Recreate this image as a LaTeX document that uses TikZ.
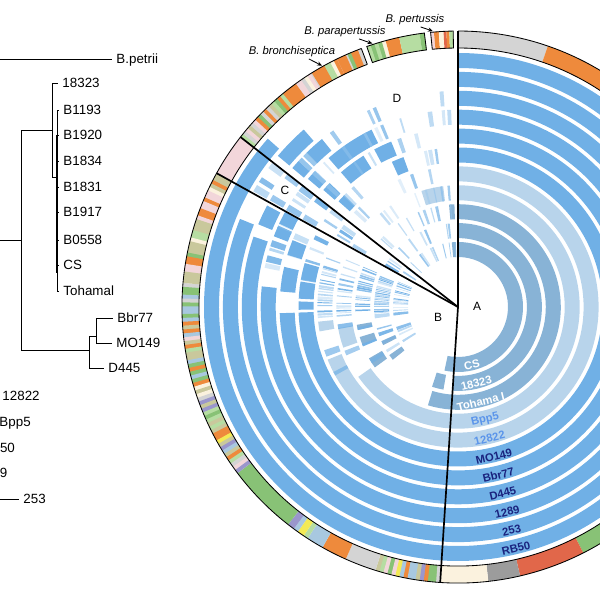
\documentclass[tikz,border=0pt]{standalone}
\usepackage{fontspec}
\setmainfont{Liberation Sans}
\usetikzlibrary{positioning, arrows.meta}

% ring colours
\definecolor{bright}{HTML}{70B0E6}
\definecolor{light}{HTML}{B8D4EB}
\definecolor{steel}{HTML}{88B3D6}
\definecolor{navy}{HTML}{1A237E}
\definecolor{midblue}{HTML}{5B95EA}
% outer ring colours
\definecolor{cgray}{HTML}{D4D4D4}
\definecolor{corange}{HTML}{EE8A3C}
\definecolor{clgreen}{HTML}{B6DDA2}
\definecolor{cgreen}{HTML}{88C276}
\definecolor{cpink}{HTML}{F2D6DA}
\definecolor{ccream}{HTML}{FBF2DE}
\definecolor{cdgray}{HTML}{9C9C9C}
\definecolor{cred}{HTML}{E1674A}
\definecolor{clblue}{HTML}{A8C8E0}
\definecolor{cyellow}{HTML}{F3EA55}
\definecolor{cpurple}{HTML}{9A96CC}
\definecolor{ckhaki}{HTML}{C9C89C}

\pgfmathdeclarerandomlist{khpal}{{ckhaki}{ckhaki}{ckhaki}{ckhaki}{clgreen}{clgreen}{cpink}{cpink}{cgreen}{ccream}{corange}}
\pgfmathdeclarerandomlist{mixpal}{{cgreen}{cgreen}{cgreen}{ckhaki}{ckhaki}{cgray}{cgray}{corange}{corange}{ccream}{cpink}{clblue}{cpurple}{clgreen}{cyellow}}
\pgfmathdeclarerandomlist{dpal}{{corange}{corange}{corange}{cgray}{cgray}{clgreen}{cpink}{cpink}{ckhaki}{ccream}{cgreen}}

% piece of blue ring #1 (1 = innermost) from angle #2 to #3
\newcommand{\rseg}[4]{%
  \pgfmathsetmacro{\segin}{50+(#1-1)*18.9}%
  \pgfmathsetmacro{\segout}{\segin+15}%
  \fill[#4] (#2:\segin) arc[start angle=#2, end angle=#3, radius=\segin]
    -- (#3:\segout) arc[start angle=#3, end angle=#2, radius=\segout] -- cycle;}
% piece of the outer ring
\newcommand{\oseg}[3]{%
  \fill[fill=#3] (#1:259) arc[start angle=#1, end angle=#2, radius=259]
    -- (#2:276) arc[start angle=#2, end angle=#1, radius=276] -- cycle;}
% #3 stripes of random colours (list #4) between #1 and #2
\newcommand{\ostripes}[4]{%
  \pgfmathsetmacro{\stw}{(#2-#1)/#3}%
  \foreach \kk in {1,...,#3}{%
    \pgfmathsetmacro{\stA}{#1+(\kk-1)*\stw}%
    \pgfmathsetmacro{\stB}{min(\stA+\stw+0.2,#2)}%
    \pgfmathrandomitem{\stc}{#4}%
    \oseg{\stA}{\stB}{\stc}}}
% random pieces on ring #1, #4 slots, chance #5
\newcommand{\frags}[6]{%
  \pgfmathsetmacro{\fw}{(#3-#2)/#4}%
  \foreach \kk in {1,...,#4}{%
    \pgfmathsetmacro{\fu}{rnd}%
    \ifdim\fu pt<#5pt
      \pgfmathsetmacro{\fa}{#2+(\kk-1)*\fw}%
      \pgfmathsetmacro{\fb}{\fa+\fw*(0.3+0.6*rnd)}%
      \pgfmathsetmacro{\fo}{0.25+0.75*rnd}%
      \rseg{#1}{\fa}{\fb}{fill=#6, fill opacity=\fo}%
    \fi}}

\begin{document}
\begin{tikzpicture}[x=0.25mm, y=0.25mm,
   leaf/.style = {anchor=west, inner xsep=3pt, inner ysep=0pt, text height=6.9pt,
                  text depth=0pt, font=\fontsize{9.5}{11}\selectfont},
 branch/.style = {line width=0.7pt},
 sector/.style = {line width=1.2pt},
    rim/.style = {line width=0.6pt},
   rlab/.style = {font=\fontsize{8}{10}\selectfont\bfseries, inner sep=0pt},
   sect/.style = {font=\fontsize{8.5}{10}\selectfont},
   spec/.style = {font=\fontsize{8}{10}\selectfont\itshape, inner sep=1pt},
  arrow/.style = {line width=0.6pt, -{Stealth[length=3.5pt, width=3pt]}}
                    ]
\useasboundingbox (0,0) rectangle (600,600);
\clip (0,0) rectangle (600,600);
\pgfmathsetseed{17}

%% tree
\node[leaf] (lfpetrii) at (112,541) {B.petrii};
\node[leaf] (lf18323)  at (58,517) {18323};
\node[leaf] (lfB1193)  at (59,490) {B1193};
\node[leaf] (lfB1920)  at (59,465) {B1920};
\node[leaf] (lfB1834)  at (59,439) {B1834};
\node[leaf] (lfB1831)  at (59,413) {B1831};
\node[leaf] (lfB1917)  at (59,388) {B1917};
\node[leaf] (lfB0558)  at (59,360) {B0558};
\node[leaf] (lfCS)     at (59,335) {CS};
\node[leaf] (lfTohama) at (59,309) {Tohamal};
\node[leaf] (lfBbr77)  at (113,282) {Bbr77};
\node[leaf] (lfMO149)  at (112,257) {MO149};
\node[leaf] (lfD445)   at (104,232) {D445};
\node[leaf] (lf12822)  at (-2,204) {12822};
\node[leaf] (lfBpp5)   at (-5,178) {Bpp5};
\node[leaf] (lfRB50)   at (-23,152) {RB50};
\node[leaf] (lf1289)   at (-27,127) {1289};
\node[leaf] (lf253)    at (19,101) {253};

\coordinate (stem)  at (-5,360);
\coordinate (root)  at (21,360);
\coordinate (bp)    at (52,470);% pertussis clade
\coordinate (bq)    at (57,423);
\coordinate (bb)    at (89,250);% bronchiseptica clade
\coordinate (bc)    at (96,264);
\coordinate (spet)  at (-5,541);
\coordinate (s253)  at (-5,101);

\draw[branch] (spet) -- (lfpetrii.west);
\draw[branch] (stem) -- (root);
\draw[branch] (root) |- (bp);
\draw[branch] (root) |- (bb);
\draw[branch] (bp) |- (lf18323.west);
\draw[branch] (bp) |- (bq);
\draw[branch] (bq) |- (lfB1193.west);
\draw[branch] (bq) |- (lfTohama.west);
\foreach \lf in {B1920,B1834,B1831,B1917,B0558,CS}
  {\draw[branch] (bq |- lf\lf.west) -- (lf\lf.west);}
\draw[line width=1.2pt] (bq |- lfB1920.west) -- ([yshift=-6pt]bq |- lfCS.west);
\draw[branch] (bb) |- (bc);
\draw[branch] (bb) |- (lfD445.west);
\draw[branch] (bc) |- (lfBbr77.west);
\draw[branch] (bc) |- (lfMO149.west);
\draw[branch] (s253) -- (lf253.west);

%% circle
\begin{scope}[shift={(458,293)}]
\coordinate (o) at (0,0);
% full rings in A
\foreach \rg/\rc in {1/steel,2/steel,3/steel,4/light,5/light,6/bright,7/bright,8/bright,9/bright,10/bright,11/bright}
  {\rseg{\rg}{-93.7}{90}{fill=\rc}}
% B and C
\foreach \rg/\fa/\fb in {11/142/266.3, 10/158/266.3, 9/161/266.3, 9/152/157.5, 8/174/266.3, 8/151/155,
    8/156/159, 7/182/266.3, 7/167/175, 7/158/163, 6/182/266.3, 6/164/170, 6/170.8/177, 6/178/181}
  {\rseg{\rg}{\fa}{\fb}{fill=bright}}
\foreach \rg/\fa/\fb in {5/202/266.3, 4/215/266.3, 4/190/199.5, 5/186/190}
  {\rseg{\rg}{\fa}{\fb}{fill=light}}
\foreach \rg/\fa/\fb in {3/253/266.3, 3/190/193, 3/197/202, 3/210/216, 2/252/260, 2/215/219, 2/204/207, 1/258/266.3}
  {\rseg{\rg}{\fa}{\fb}{fill=steel}}
\foreach \rg in {6,7,8}
  {\frags{\rg}{151}{174}{10}{0.5}{bright}}
\foreach \rg in {1,...,5}
  {\frags{\rg}{157}{185}{24}{0.75}{bright}}
\foreach \rg in {1,...,5}
  {\frags{\rg}{185}{214}{9}{0.4}{bright}}
\foreach \rg in {1,...,10}
  {\frags{\rg}{142}{151}{4}{0.5}{bright}}
% D
\foreach \rg/\fa/\fb in {11/138.5/142, 10/131/140, 9/129/134.5, 9/137.5/140, 8/116/131, 8/136.5/139.5,
    7/112/118, 7/122/131, 7/136/139, 6/110/114.5, 6/135.5/138.5}
  {\rseg{\rg}{\fa}{\fb}{fill=bright}}
\rseg{4}{97}{107.5}{fill=light}
\rseg{3}{92}{95}{fill=steel}
\rseg{1}{92}{95.5}{fill=steel}
\foreach \rg in {1,...,9}
  {\frags{\rg}{92}{140}{26}{0.25}{bright!75!white}}

% outer ring
\oseg{71}{90}{cgray}
\oseg{30}{71}{corange}
\oseg{-30}{30}{cgray}
\oseg{-63}{-30}{cgreen}
\oseg{-77}{-63}{cred}
\oseg{-83.7}{-77}{cdgray}
\oseg{-93.7}{-83.7}{ccream}
\ostripes{252.6}{266.3}{16}{mixpal}
\oseg{246}{252.6}{cgray}
\oseg{240.6}{246}{corange}
\oseg{237}{240.6}{clblue}
\oseg{236}{237}{clgreen}
\oseg{234.5}{236}{cyellow}
\oseg{233.5}{234.5}{clblue}
\oseg{232}{233.5}{cpurple}
\oseg{217}{232}{cgreen}
\ostripes{175}{217}{52}{mixpal}
\ostripes{151}{175}{30}{khpal}
\oseg{142}{151}{cpink}
\ostripes{110.5}{142}{40}{dpal}
\foreach \fa/\fb in {114/116, 119/122, 126/128}
  {\oseg{\fa}{\fb}{corange}}
\ostripes{105.2}{109.3}{5}{khpal}
\oseg{102.3}{105.2}{corange}
\oseg{98}{102.3}{clgreen}
\oseg{97}{98}{cgreen}
\foreach \fa/\fb/\fc in {95/95.7/cpink, 94/95/corange, 93/94/ccream, 92.4/93/cred, 91.8/92.4/corange, 91/91.8/clgreen}
  {\oseg{\fa}{\fb}{\fc}}

% outlines of the outer ring
\draw[rim] (110.5:259) arc[start angle=110.5, end angle=450, radius=259];
\draw[rim] (110.5:276) arc[start angle=110.5, end angle=450, radius=276];
\draw[rim] (110.5:259) -- (110.5:276);
\draw[rim] (97:259) arc[start angle=97, end angle=109.3, radius=259]
   -- (109.3:276) arc[start angle=109.3, end angle=97, radius=276] -- cycle;
\draw[rim] (91:259) arc[start angle=91, end angle=95.7, radius=259]
   -- (95.7:276) arc[start angle=95.7, end angle=91, radius=276] -- cycle;

% sector borders
\coordinate (eAD) at (90:276);
\coordinate (eAB) at (-93.7:276);
\coordinate (eCD) at (142:276);
\coordinate (eBC) at (151:276);
\foreach \e in {eAD,eAB,eCD,eBC}
  {\draw[sector] (o) -- (\e);}

% strain names on the rings
\foreach \rg/\txt/\tc in {1/CS/white, 2/18323/white, 3/Tohama I/white, 4/Bpp5/midblue,
    5/12822/midblue, 6/MO149/navy, 7/Bbr77/navy, 8/D445/navy, 9/1289/navy, 10/253/navy, 11/RB50/navy}
  {\node[rlab, text=\tc, rotate=13.5] (rg\rg) at (-76.5:{59.5+(\rg-1)*18.9}) {\txt};}

\coordinate (pPert)  at (95.2:277);
\coordinate (pPara)  at (108:277);
\coordinate (pBronc) at (119.4:277);
\end{scope}

\node[sect] (secA) at (477,294) {A};
\node[sect] (secB) at (438,283) {B};
\node[sect] (secC) at (285,410) {C};
\node[sect] (secD) at (397,502) {D};

\node[spec] (lbPert)  at (415,580) {B. pertussis};
\node[spec] (lbPara)  at (345,568) {B. parapertussis};
\node[spec] (lbBronc) at (292,548) {B. bronchiseptica};
\draw[arrow] ([xshift=4pt]lbPert.south) -- (pPert);
\draw[arrow] ([xshift=10pt]lbPara.south) -- (pPara);
\draw[arrow] ([xshift=12pt]lbBronc.south) -- (pBronc);
\end{tikzpicture}
\end{document}
